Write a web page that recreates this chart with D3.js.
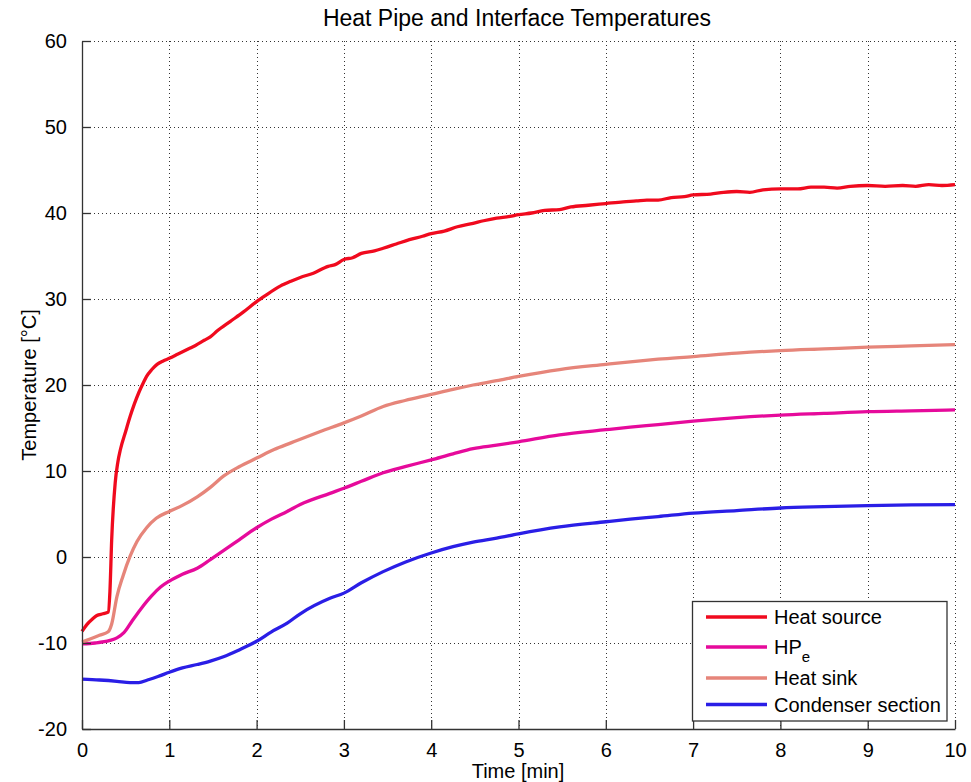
<!DOCTYPE html>
<html><head><meta charset="utf-8">
<script src="https://cdn.jsdelivr.net/npm/d3@7"></script>
<style>body{margin:0;background:#fff;} text{font-family:"Liberation Sans",Arial,sans-serif;}</style>
</head><body>
<svg id="c" width="971" height="782"></svg>
<script>
const seriesNames = ["Heat source", "HPe", "Heat sink", "Condenser section"];
const seriesColors = ["#f00a1e", "#e60a9b", "#e6857a", "#2a1ee6"];
const xTicks = [0,1,2,3,4,5,6,7,8,9,10];
const yTicks = [-20,-10,0,10,20,30,40,50,60];

const heatSource = [
 [0,-8.65],[0.06,-7.8],[0.12,-7.2],[0.17,-6.8],[0.24,-6.6],[0.3,-6.4],[0.32,-4],[0.34,2.0],[0.38,8.6],[0.41,11.0],[0.44,12.5],
 [0.5,14.6],[0.55,16.3],[0.6,17.8],[0.65,19.1],[0.7,20.2],[0.74,21.0],[0.8,21.8],[0.86,22.4],[0.93,22.8],[1.0,23.1],[1.1,23.6],
 [1.24,24.3],[1.3,24.6],[1.4,25.2],[1.47,25.6],[1.55,26.3],[1.7,27.4],[1.85,28.5],[2.0,29.7],[2.1,30.4],[2.27,31.5],[2.4,32.1],
 [2.5,32.5],[2.65,33.0],[2.82,33.8],[2.9,34.0],[3.0,34.6],[3.1,34.8],[3.2,35.3],[3.35,35.6],[3.45,35.9],[3.6,36.4],[3.75,36.9],
 [3.9,37.3],[4.0,37.6],[4.15,37.9],[4.3,38.4],[4.48,38.8],[4.6,39.1],[4.75,39.4],[4.9,39.6],[5.0,39.8],[5.15,40.0],[5.3,40.3],
 [5.47,40.4],[5.6,40.7],[5.8,40.9],[6.0,41.1],[6.2,41.3],[6.35,41.4],[6.47,41.5],[6.6,41.5],[6.75,41.8],[6.9,41.9],[7.0,42.1],
 [7.2,42.2],[7.35,42.4],[7.5,42.5],[7.65,42.4],[7.8,42.7],[8.0,42.8],[8.2,42.8],[8.35,43.0],[8.5,43.0],[8.65,42.9],[8.8,43.1],
 [9.0,43.2],[9.2,43.1],[9.4,43.2],[9.55,43.1],[9.7,43.3],[9.85,43.2],[10.0,43.3]
];
const hpe = [
 [0,-10.1],[0.15,-10.0],[0.32,-9.7],[0.4,-9.4],[0.48,-8.8],[0.57,-7.5],[0.67,-6.1],[0.8,-4.5],[0.9,-3.5],[1.0,-2.8],[1.15,-2.0],
 [1.32,-1.3],[1.47,-0.3],[1.62,0.73],[1.8,2.0],[2.0,3.4],[2.17,4.4],[2.35,5.3],[2.5,6.1],[2.84,7.4],[3.0,8.0],[3.2,8.8],[3.45,9.8],
 [3.7,10.5],[4.0,11.3],[4.25,12.0],[4.48,12.6],[4.75,13.0],[5.0,13.4],[5.47,14.2],[6.0,14.8],[6.28,15.1],[6.6,15.4],[7.0,15.8],
 [7.5,16.2],[8.0,16.5],[8.5,16.7],[9.0,16.9],[9.5,17.0],[10.0,17.1]
];
const heatSink = [
 [0,-9.9],[0.1,-9.5],[0.2,-9.1],[0.3,-8.7],[0.34,-7.8],[0.4,-4.6],[0.47,-2.2],[0.55,0.07],[0.63,1.8],[0.74,3.4],[0.85,4.5],
 [1.0,5.3],[1.15,6.0],[1.32,7.0],[1.47,8.1],[1.62,9.4],[1.8,10.5],[2.0,11.5],[2.2,12.5],[2.4,13.3],[2.5,13.7],[2.73,14.6],[3.0,15.6],
 [3.2,16.4],[3.45,17.5],[3.7,18.2],[4.0,18.9],[4.25,19.5],[4.48,20.0],[4.75,20.5],[5.0,21.0],[5.47,21.8],[6.0,22.4],[6.28,22.7],
 [6.6,23.0],[7.0,23.3],[7.5,23.7],[8.0,24.0],[8.5,24.2],[9.0,24.4],[9.5,24.55],[10.0,24.7]
];
const condenser = [
 [0,-14.2],[0.2,-14.3],[0.4,-14.45],[0.55,-14.6],[0.65,-14.6],[0.75,-14.3],[0.87,-13.9],[1.0,-13.4],[1.15,-12.9],[1.32,-12.5],
 [1.47,-12.1],[1.62,-11.6],[1.8,-10.8],[2.0,-9.8],[2.17,-8.7],[2.35,-7.7],[2.5,-6.6],[2.84,-4.8],[3.0,-4.2],[3.2,-3.0],[3.45,-1.7],
 [3.7,-0.6],[4.0,0.47],[4.25,1.2],[4.48,1.74],[4.75,2.2],[5.0,2.7],[5.47,3.5],[6.0,4.1],[6.28,4.4],[6.6,4.7],[7.0,5.1],[7.5,5.4],
 [8.0,5.7],[8.5,5.85],[9.0,5.97],[9.5,6.05],[10.0,6.1]
];
const allSeries = [heatSource, hpe, heatSink, condenser];

const svg = d3.select("#c");
const m = {l:82, t:41, r:955, b:729};
const x = d3.scaleLinear().domain([0,10]).range([m.l, m.r]);
const y = d3.scaleLinear().domain([-20,60]).range([m.b, m.t]);

// grid
const g = svg.append("g");
g.selectAll(".gx").data(xTicks.slice(1)).enter().append("line")
  .attr("x1", d=>Math.round(x(d))+0.5).attr("x2", d=>Math.round(x(d))+0.5).attr("y1", m.t).attr("y2", m.b)
  .attr("stroke","#333").attr("stroke-width",1).attr("stroke-dasharray","1,3");
g.selectAll(".gy").data(yTicks.slice(1)).enter().append("line")
  .attr("y1", d=>Math.round(y(d))+0.5).attr("y2", d=>Math.round(y(d))+0.5).attr("x1", m.l).attr("x2", m.r)
  .attr("stroke","#333").attr("stroke-width",1).attr("stroke-dasharray","1,3");

// lines
const line = d3.line().x(d=>x(d[0])).y(d=>y(d[1])).curve(d3.curveMonotoneX);
allSeries.forEach((s,i)=>{
  svg.append("path").datum(s).attr("d", line).attr("fill","none")
    .attr("stroke", seriesColors[i]).attr("stroke-width", 3.3).attr("stroke-linejoin","round");
});

// axes
const fmt = d => String(d);
const xAxis = d3.axisBottom(x).tickValues(xTicks).tickFormat(fmt).tickSizeInner(-9).tickSizeOuter(0).tickPadding(14);
const yAxis = d3.axisLeft(y).tickValues(yTicks).tickFormat(fmt).tickSizeInner(-9).tickSizeOuter(0).tickPadding(15);
const gx = svg.append("g").attr("transform",`translate(0,${m.b})`).call(xAxis);
const gy = svg.append("g").attr("transform",`translate(${m.l},0)`).call(yAxis);
[gx,gy].forEach(a=>{
  a.select(".domain").attr("stroke","#333").attr("stroke-width",1.3);
  a.selectAll(".tick line").attr("stroke","#333").attr("stroke-width",1.3);
  a.selectAll(".tick text").attr("font-size",20).attr("fill","#000").attr("font-family","Liberation Sans, Arial, sans-serif");
});
gx.selectAll(".tick text").attr("dy","0.71em");

// title & labels
svg.append("text").attr("x", 517).attr("y", 26).attr("text-anchor","middle").attr("font-size",23).text("Heat Pipe and Interface Temperatures");
svg.append("text").attr("x", 518).attr("y", 778).attr("text-anchor","middle").attr("font-size",20).text("Time [min]");
svg.append("text").attr("transform","translate(36,385) rotate(-90)").attr("text-anchor","middle").attr("font-size",20).text("Temperature [°C]");

// legend
const lg = svg.append("g");
lg.append("rect").attr("x",692.5).attr("y",601.5).attr("width",254.5).attr("height",119.5)
  .attr("fill","#fff").attr("stroke","#333").attr("stroke-width",1.3);
const rowY = [617, 647, 678, 704.5];
seriesNames.forEach((n,i)=>{
  lg.append("line").attr("x1",706).attr("x2",767).attr("y1",rowY[i]).attr("y2",rowY[i])
    .attr("stroke",seriesColors[i]).attr("stroke-width",3.3);
  const t = lg.append("text").attr("x",774).attr("y",rowY[i]+7).attr("font-size",20);
  if (n === "HPe") {
    t.append("tspan").text("HP");
    t.append("tspan").attr("font-size",15).attr("dy",8).text("e");
  } else t.text(n);
});
</script>
</body></html>
